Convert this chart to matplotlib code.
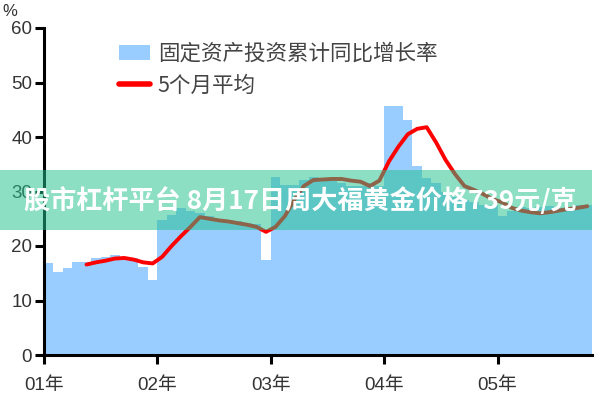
import matplotlib
matplotlib.use('Agg')
import matplotlib.pyplot as plt
from matplotlib.patches import Rectangle, Patch
from matplotlib.lines import Line2D

plt.rcParams['font.family'] = ['Liberation Sans', 'Noto Sans CJK SC', 'DejaVu Sans']

year_labels = ['01年', '02年', '03年', '04年', '05年']
year_ticks = [0, 12, 24, 36, 48]

# monthly cumulative YoY growth of fixed asset investment (%)
growth = [16.8, 15.3, 16.0, 17.1, 17.1, 17.8, 18.0, 18.3, 18.0, 17.8, 16.2, 13.8,
          24.8, 25.7, 27.0, 26.5, 26.0, 25.5, 25.0, 24.8, 24.5, 24.2, 24.0, 17.4,
          32.7, 31.2, 31.2, 32.1, 32.7, 32.5, 32.0, 31.5, 31.0, 31.0, 31.5, 31.0,
          45.6, 45.6, 43.1, 34.6, 32.5, 31.5, 30.0, 29.0, 28.5, 28.0, 27.5, 27.5,
          25.5, 26.5, 27.2, 27.0, 27.2, 27.3, 27.0, 27.2, 27.5, 27.5]

# 5-month average, starting at month index 4
avg_start = 4
avg5 = [16.6, 17.0, 17.3, 17.7, 17.8, 17.5, 17.0, 16.8,
        18.0, 20.0, 21.8, 23.5, 25.3, 25.0, 24.7, 24.5, 24.2, 23.9, 23.5, 22.6,
        23.5, 25.5, 28.5, 31.0, 32.1, 32.2, 32.3, 32.3, 32.0, 31.8, 31.0, 32.0,
        35.5, 38.2, 40.5, 41.5, 41.8, 39.0, 35.8, 33.2, 31.0, 30.3, 29.5, 28.6,
        28.0, 27.0, 26.5, 26.2, 26.0, 26.2, 26.5, 26.8, 27.0, 27.3]

legend_labels = ['固定资产投资累计同比增长率', '5个月平均']
banner_text = '股市杠杆平台 8月17日周大福黄金价格739元/克'

bar_color = '#99CCFF'
line_color = '#FF0000'

fig = plt.figure(figsize=(6, 4), dpi=100)
ax = fig.add_axes([44/600, 45/400, 548/600, 327/400])

months = list(range(len(growth)))
ax.bar(months, growth, width=1.0, align='edge', color=bar_color, linewidth=0, zorder=1)
avg_x = [avg_start + i + 0.5 for i in range(len(avg5))]
ax.plot(avg_x, avg5, color=line_color, lw=2.8, solid_capstyle='round', zorder=3)

ax.set_xlim(0, len(growth))
ax.set_ylim(0, 60)
ax.set_yticks(range(0, 61, 10))
ax.set_xticks(year_ticks)
ax.set_xticklabels(year_labels)

for s in ['top', 'right']:
    ax.spines[s].set_visible(False)
for s in ['left', 'bottom']:
    ax.spines[s].set_linewidth(2.2)
    ax.spines[s].set_color('black')
ax.tick_params(axis='both', direction='out', length=6.5, width=2.2, color='black',
               labelcolor='#333333')
ax.tick_params(axis='y', labelsize=13.5, pad=2)
ax.tick_params(axis='x', labelsize=13.5, pad=9)
ax.patch.set_alpha(0)

fig.text(2/600, 1 - 12/400, '%', fontsize=12, color='#333333', ha='left', va='center')

handles = [Patch(facecolor=bar_color, edgecolor='none'),
           Line2D([], [], color=line_color, lw=4, solid_capstyle='round')]
leg = fig.legend(handles, legend_labels, loc='upper left',
                 bbox_to_anchor=(119/600, 1 - 43/400), bbox_transform=fig.transFigure,
                 frameon=False, borderpad=0, borderaxespad=0, handlelength=1.45,
                 handleheight=0.7, handletextpad=0.35, labelspacing=0.45,
                 prop={'family': ['Noto Sans CJK SC'], 'size': 15.5})
for t in leg.get_texts():
    t.set_color('#444444')

fig.patches.append(Rectangle((0, 1 - 230/400), 592/600, 60/400, transform=fig.transFigure,
                             facecolor=(0.14, 0.76, 0.56), alpha=0.52, edgecolor='none',
                             zorder=10))
fig.text(300/600, 1 - 201/400, banner_text, color='white', fontsize=18.8,
         fontweight='bold', family=['Noto Sans CJK SC'], ha='center', va='center',
         zorder=11)

fig.savefig('out.png', dpi=100)
